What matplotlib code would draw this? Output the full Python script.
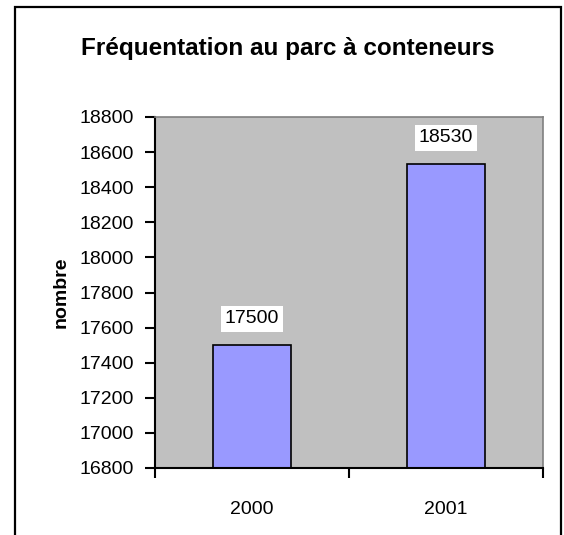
import matplotlib
matplotlib.use("Agg")
import matplotlib.pyplot as plt
from matplotlib.patches import Rectangle

# data
years = ["2000", "2001"]
visits = [17500, 18530]
yticks = list(range(16800, 18801, 200))

plt.rcParams['font.family'] = ['Liberation Sans', 'DejaVu Sans']

W, H = 564, 535
fig = plt.figure(figsize=(W / 100, H / 100), dpi=100)

# plot area in pixel coords
left, right, top, bottom = 155, 543, 117, 468
ax = fig.add_axes([left / W, (H - bottom) / H, (right - left) / W, (bottom - top) / H])
ax.set_facecolor('#C0C0C0')

x = list(range(len(years)))
bars = ax.bar(x, visits, width=0.4, color='#9999FF', edgecolor='black', linewidth=1.2, zorder=2)

ax.set_xlim(-0.5, len(years) - 0.5)
ax.set_ylim(yticks[0], yticks[-1])
ax.set_yticks(yticks)
ax.set_yticklabels([str(v) for v in yticks], fontsize=14)
ax.tick_params(axis='y', direction='out', length=7, width=1.5, pad=8)

# category ticks sit between the bars, labels in the middle
ax.set_xticks([i - 0.5 for i in range(len(years) + 1)])
ax.set_xticklabels([])
ax.set_xticks(x, minor=True)
ax.set_xticklabels(years, minor=True, fontsize=14)
ax.tick_params(axis='x', which='major', direction='out', length=7, width=1.5)
ax.tick_params(axis='x', which='minor', length=0, pad=24)

for s in ('top', 'right'):
    ax.spines[s].set_color('#808080')
    ax.spines[s].set_linewidth(1.2)
for s in ('left', 'bottom'):
    ax.spines[s].set_color('black')
    ax.spines[s].set_linewidth(1.5)

for xi, v in zip(x, visits):
    ax.annotate(str(v), (xi, v), xytext=(0, 19), textcoords='offset points',
                ha='center', va='center', fontsize=14, zorder=3,
                bbox=dict(boxstyle='square,pad=0.22', fc='white', ec='none'))

ax.set_ylabel('nombre', fontsize=14, fontweight='bold')
ax.yaxis.set_label_coords((70 - left) / (right - left), 0.5)

fig.text(288 / W, 1 - 48 / H, 'Fréquentation au parc à conteneurs',
         ha='center', va='center', fontsize=17.5, fontweight='bold')

# outer chart frame, runs past the bottom edge
fig.add_artist(Rectangle((15 / W, -0.05), (561 - 15) / W, 1.05 - 7 / H,
                         transform=fig.transFigure, fill=False, ec='black', lw=1.6))

fig.savefig('out.png', dpi=100)
